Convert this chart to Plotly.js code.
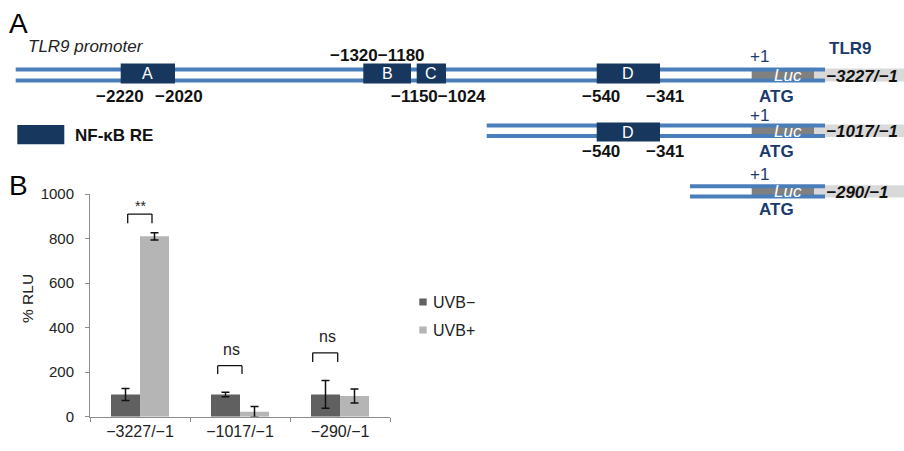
<!DOCTYPE html>
<html>
<head>
<meta charset="utf-8">
<script src="https://cdn.plot.ly/plotly-3.0.1.min.js"></script>
<style>html,body{margin:0;padding:0;background:#fff;}#chart{width:904px;height:451px;}</style>
</head>
<body>
<div id="chart"></div>
<script>
// ---------- Data ----------
const categories = ['\u22123227/\u22121', '\u22121017/\u22121', '\u2212290/\u22121'];
const uvbMinus = [100, 100, 100];
const uvbMinusErr = [27, 10, 62];
const uvbPlus = [810, 22, 93];
const uvbPlusErr = [16, 24, 31];
const seriesNames = ['UVB\u2212', 'UVB+'];
const yTickVals = [0, 200, 400, 600, 800, 1000];
const sigLabels = ['**', 'ns', 'ns'];
const sigBracketTop = [910, 229, 287];
const sigBracketLeg = [869, 192, 246];
const sigTextY = [946, 304, 359];

// promoter schematic content
const constructNames = ['\u22123227/\u22121', '\u22121017/\u22121', '\u2212290/\u22121'];
const reNames = ['A', 'B', 'C', 'D'];
const reRow1Labels = ['\u22122220', '\u22122020', '\u22121320\u22121180', '\u22121150\u22121024', '\u2212540', '\u2212341'];
const reRow2Labels = ['\u2212540', '\u2212341'];

// ---------- Styling / layout geometry ----------
const FONT = 'Liberation Sans, Arial, Helvetica, sans-serif';
const NAVY = '#17375e';
const NAVYTXT = '#1b3a6c';
const LINEBLUE = '#4a7ebb';
const DARK = '#606060';
const LIGHT = '#b5b5b5';

const rows = [
  {x0: 15.7, yTop: 69.5, yBot: 80.5, boxTop: 63.5, boxBot: 83.5, plus: 56.7, atg: 96.7},
  {x0: 486.7, yTop: 125.5, yBot: 136, boxTop: 122.5, boxBot: 141.5, plus: 115, atg: 151.7},
  {x0: 690, yTop: 186.2, yBot: 196.5, plus: 174, atg: 209}
];
const lineEnd = 825;
const lucX = [751.7, 814];
const boxesRow1 = [[120.7, 175], [363.3, 411], [416.7, 446], [596.7, 660]];
const boxesRow2 = [[596.7, 660]];

const shapes = [];
const annotations = [];
const P = {xref: 'x2', yref: 'y2'};

function rect(x0, x1, y0, y1, color) {
  shapes.push(Object.assign({type: 'rect', x0, x1, y0, y1, fillcolor: color, line: {width: 0}, layer: 'above'}, P));
}
function hline(x0, x1, y, color, w) {
  shapes.push(Object.assign({type: 'line', x0, x1, y0: y, y1: y, line: {color, width: w}, layer: 'above'}, P));
}
function txt(text, x, y, opt) {
  opt = opt || {};
  annotations.push(Object.assign({
    text, x, y, showarrow: false, xanchor: opt.xanchor || 'center', yanchor: 'middle', borderpad: 0,
    font: {family: FONT, size: opt.size || 17, color: opt.color || '#111', weight: opt.weight || 'normal', style: opt.style || 'normal'}
  }, P));
}

rows.forEach((r, i) => {
  rect(lucX[1], 904, r.yTop - 1, r.yBot + 1, '#d9d9d9');
  rect(lucX[0], lucX[1], r.yTop + 1.5, r.yBot - 1.5, '#808080');
  hline(r.x0, lineEnd, r.yTop, LINEBLUE, 4);
  hline(r.x0, lineEnd, r.yBot, LINEBLUE, 4);
  txt('<i>Luc</i>', 788, (r.yTop + r.yBot) / 2 + 0.5, {color: '#ffffff', style: 'italic'});
  txt('+1', 759, r.plus, {color: NAVYTXT});
  txt('<b>ATG</b>', 776.7, r.atg, {color: NAVYTXT, weight: 'bold'});
  txt('<b><i>' + constructNames[i] + '</i></b>', 825, (r.yTop + r.yBot) / 2 + 1, {xanchor: 'left', weight: 'bold', style: 'italic'});
});
boxesRow1.forEach((b, i) => {
  rect(b[0], b[1], rows[0].boxTop, rows[0].boxBot, NAVY);
  txt(reNames[i], (b[0] + b[1]) / 2, (rows[0].boxTop + rows[0].boxBot) / 2, {color: '#ffffff', size: 16});
});
boxesRow2.forEach((b) => {
  rect(b[0], b[1], rows[1].boxTop, rows[1].boxBot, NAVY);
  txt(reNames[3], (b[0] + b[1]) / 2, (rows[1].boxTop + rows[1].boxBot) / 2, {color: '#ffffff', size: 16});
});
// position labels
const row1LabelPos = [[120, 96.7], [179, 96.7], [377, 55.5], [438.8, 96.7], [601, 96.7], [664.5, 96.7]];
reRow1Labels.forEach((t, i) => txt('<b>' + t + '</b>', row1LabelPos[i][0], row1LabelPos[i][1], {weight: 'bold'}));
const row2LabelPos = [[601, 151.7], [664.5, 151.7]];
reRow2Labels.forEach((t, i) => txt('<b>' + t + '</b>', row2LabelPos[i][0], row2LabelPos[i][1], {weight: 'bold'}));

txt('<b>TLR9</b>', 850.5, 48.3, {color: NAVYTXT, weight: 'bold'});
txt('<i>TLR9 promoter</i>', 27, 46, {xanchor: 'left', size: 17, style: 'italic', color: '#222'});
txt('A', 8, 23, {xanchor: 'left', size: 28, color: '#000'});
txt('B', 8, 185, {xanchor: 'left', size: 28, color: '#000'});
// NF-kB legend
rect(17.3, 64.3, 125, 144.3, NAVY);
txt('<b>NF-\u03baB RE</b>', 74, 135, {xanchor: 'left', weight: 'bold'});

// bar legend
rect(419.3, 426.7, 298.5, 305.5, DARK);
rect(419.3, 426.7, 326.5, 333.5, LIGHT);
txt(seriesNames[0], 432, 302.5, {xanchor: 'left', size: 16, color: '#222'});
txt(seriesNames[1], 432, 330.5, {xanchor: 'left', size: 16, color: '#222'});
// y axis title
txt('% RLU', 27.5, 298.5, {size: 15.5, color: '#222'});
annotations[annotations.length - 1].textangle = -90;

// significance brackets (in bar-chart data coordinates)
const bracketX = [[-0.123, 0.12], [0.777, 1.02], [1.727, 1.977]];
const sigTextX = [0.0, 0.91, 1.87];
bracketX.forEach((bx, i) => {
  const L = {color: '#111', width: 1.3};
  shapes.push({type: 'line', xref: 'x', yref: 'y', x0: bx[0], x1: bx[1], y0: sigBracketTop[i], y1: sigBracketTop[i], line: L});
  shapes.push({type: 'line', xref: 'x', yref: 'y', x0: bx[0], x1: bx[0], y0: sigBracketTop[i], y1: sigBracketLeg[i], line: L});
  shapes.push({type: 'line', xref: 'x', yref: 'y', x0: bx[1], x1: bx[1], y0: sigBracketTop[i], y1: sigBracketLeg[i], line: L});
  annotations.push({text: sigLabels[i], xref: 'x', yref: 'y', x: sigTextX[i], y: sigTextY[i], showarrow: false,
    font: {family: FONT, size: sigLabels[i] === '**' ? 14 : 16, color: '#222'}});
});

const errStyle = {type: 'data', visible: true, color: '#111', thickness: 1.5, width: 4};
const traces = [
  {type: 'bar', name: seriesNames[0], x: categories, y: uvbMinus, marker: {color: DARK},
   error_y: Object.assign({array: uvbMinusErr}, errStyle), xaxis: 'x', yaxis: 'y', hoverinfo: 'y'},
  {type: 'bar', name: seriesNames[1], x: categories, y: uvbPlus, marker: {color: LIGHT},
   error_y: Object.assign({array: uvbPlusErr}, errStyle), xaxis: 'x', yaxis: 'y', hoverinfo: 'y'},
  {type: 'scatter', mode: 'markers', x: [0], y: [0], marker: {opacity: 0}, xaxis: 'x2', yaxis: 'y2', showlegend: false, hoverinfo: 'skip'}
];

const layout = {
  width: 904, height: 451,
  margin: {l: 0, r: 0, t: 0, b: 0},
  paper_bgcolor: '#ffffff', plot_bgcolor: 'rgba(0,0,0,0)',
  showlegend: false,
  barmode: 'group', bargap: 0.42, bargroupgap: 0,
  font: {family: FONT, color: '#222'},
  xaxis: {domain: [90 / 904, 390 / 904], anchor: 'y', type: 'category', range: [-0.5, 2.5],
    showline: true, linecolor: '#8c8c8c', linewidth: 1, ticks: 'outside', ticklen: 4, tickcolor: '#8c8c8c',
    tickson: 'boundaries', tickfont: {family: FONT, size: 16, color: '#222'}, showgrid: false, zeroline: false, fixedrange: true},
  yaxis: {domain: [(451 - 416.7) / 451, (451 - 194) / 451], anchor: 'x', range: [0, 1000],
    tickvals: yTickVals, showline: true, linecolor: '#8c8c8c', linewidth: 1, ticks: 'outside', ticklen: 4,
    tickcolor: '#8c8c8c', ticklabelstandoff: 8, tickfont: {family: FONT, size: 15, color: '#222'},
    showgrid: false, zeroline: false, fixedrange: true},
  xaxis2: {domain: [0, 1], range: [0, 904], anchor: 'y2', visible: false, fixedrange: true},
  yaxis2: {domain: [0, 1], range: [451, 0], anchor: 'x2', visible: false, fixedrange: true},
  shapes, annotations
};

Plotly.newPlot('chart', traces, layout, {displayModeBar: false, staticPlot: true});
</script>
</body>
</html>
